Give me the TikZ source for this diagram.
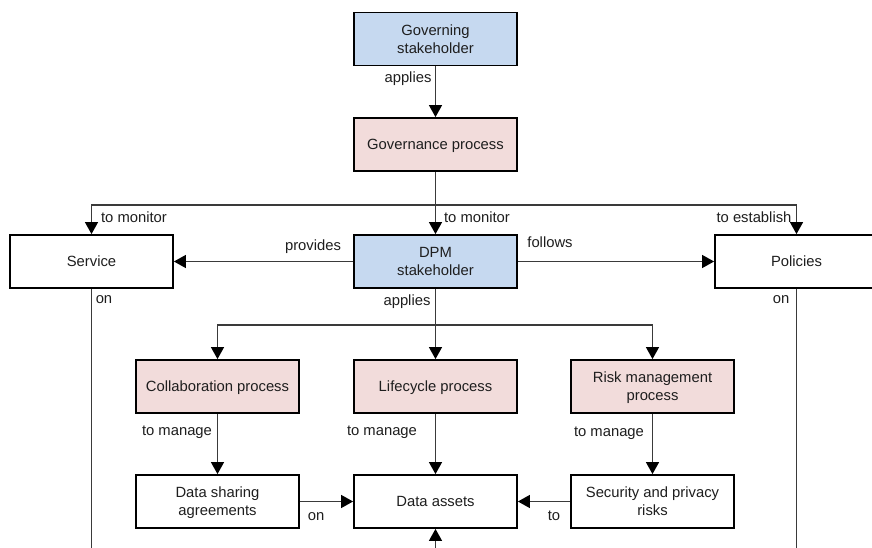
\documentclass[tikz,border=0pt]{standalone}
\usepackage{fontspec}
\setmainfont{Liberation Sans}
\usetikzlibrary{arrows.meta}
\definecolor{bluefill}{HTML}{C6D9F0}
\definecolor{pinkfill}{HTML}{F2DCDB}
\definecolor{linecol}{HTML}{3A3A3A}
\definecolor{textcol}{HTML}{1E1E1E}
\begin{document}
\begin{tikzpicture}[x=1pt,y=-1pt,
  box/.style={draw=black, line width=1.8pt, minimum width=163pt, minimum height=53pt,
    align=center, inner sep=0pt, text depth=0pt, text=textcol, font=\fontsize{14.8}{18}\selectfont},
  bluebox/.style={box, fill=bluefill},
  pinkbox/.style={box, fill=pinkfill},
  whitebox/.style={box, fill=white},
  lbl/.style={inner sep=0pt, text=textcol, font=\fontsize{14.8}{17}\selectfont},
  conn/.style={draw=linecol, line width=1.2pt},
  arr/.style={conn, -{Triangle[length=12pt,width=13pt,fill=black,color=black]}}]
\useasboundingbox (0,0) rectangle (872,548);
\fill[white] (0,0) rectangle (872,548);
% nodes
\node[bluebox] (gov) at (435.5,39) {Governing\\stakeholder};
\node[pinkbox] (govp) at (435.5,144.5) {Governance process};
\node[whitebox] (service) at (91.5,261.5) {Service};
\node[bluebox] (dpm) at (435.5,261.5) {DPM\\stakeholder};
\node[whitebox] (policies) at (796.5,261.5) {Policies};
\node[pinkbox] (collab) at (217.5,386.5) {Collaboration process};
\node[pinkbox] (life) at (435.5,386.5) {Lifecycle process};
\node[pinkbox] (risk) at (652.5,386.5) {Risk management\\process};
\node[whitebox] (dsa) at (217.5,501.5) {Data sharing\\agreements};
\node[whitebox] (assets) at (435.5,501.5) {Data assets};
\node[whitebox] (sec) at (652.5,501.5) {Security and privacy\\risks};
% coordinates
\coordinate (jt) at (435.5,205);
\coordinate (jb) at (435.5,325);
\coordinate (sbot) at (91.5,548);
\coordinate (pbot) at (796.5,548);
\coordinate (abot) at (435.5,548);
% connectors
\draw[arr] (gov.south) -- (govp.north);
\draw[arr] (govp.south) -- (dpm.north);
\draw[arr] (jt) -| (service.north);
\draw[arr] (jt) -| (policies.north);
\draw[arr] (dpm.west) -- (service.east);
\draw[arr] (dpm.east) -- (policies.west);
\draw[conn] (service.south) -- (sbot);
\draw[conn] (policies.south) -- (pbot);
\draw[arr] (dpm.south) -- (life.north);
\draw[arr] (jb) -| (collab.north);
\draw[arr] (jb) -| (risk.north);
\draw[arr] (collab.south) -- (dsa.north);
\draw[arr] (life.south) -- (assets.north);
\draw[arr] (risk.south) -- (sec.north);
\draw[arr] (dsa.east) -- (assets.west);
\draw[arr] (sec.west) -- (assets.east);
\draw[arr] (abot) -- (assets.south);
% labels
\node[lbl] (l1) at (408,79) {applies};
\node[lbl] (l2) at (477,217) {to monitor};
\node[lbl] (l3) at (134,217) {to monitor};
\node[lbl] (l4) at (754,217) {to establish};
\node[lbl] (l5) at (313,247) {provides};
\node[lbl] (l6) at (550,242) {follows};
\node[lbl] (l7) at (104,300) {on};
\node[lbl] (l8) at (781,300) {on};
\node[lbl] (l9) at (407,302) {applies};
\node[lbl] (l10) at (177,432) {to manage};
\node[lbl] (l11) at (382,432) {to manage};
\node[lbl] (l12) at (609,433) {to manage};
\node[lbl] (l13) at (316,517) {on};
\node[lbl] (l14) at (554,516) {to};
\end{tikzpicture}
\end{document}
